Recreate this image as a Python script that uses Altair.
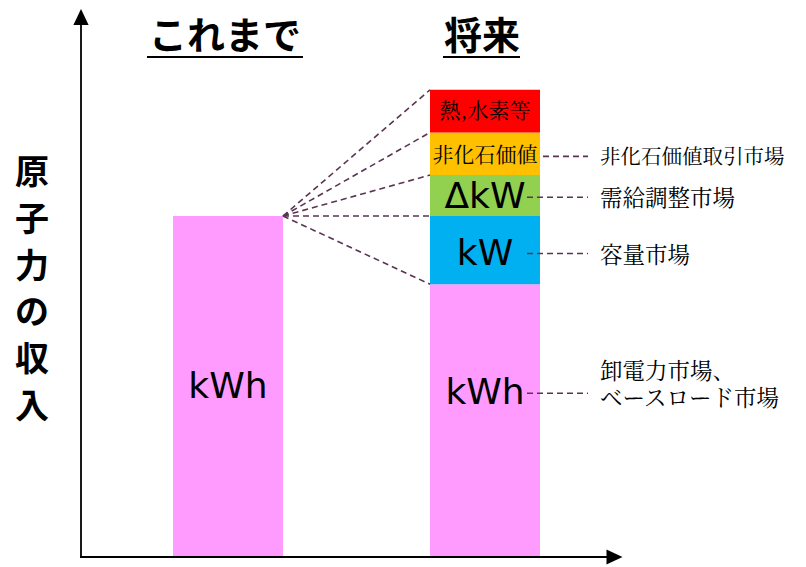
import altair as alt
import pandas as pd

# ---- data ----
categories = ["これまで", "将来"]
seg_names = ["kWh", "kW", "ΔkW", "非化石価値", "熱,水素等"]
now_values = [100]
future_values = [80, 20, 12, 12.5, 12.5]
seg_colors = ["#ff9bff", "#00b0f0", "#92d050", "#ffc000", "#ff0000"]
label_pos_now = [50]
label_pos_future = [48, 89, 105.5, 117.5, 130.5]
market_names = ["卸電力市場、\nベースロード市場", "容量市場", "需給調整市場", "非化石価値取引市場", ""]
y_label = "原子力の収入"

# ---- tables ----
rows = []
for cat, names, vals, lpos in [
    (categories[0], seg_names[:1], now_values, label_pos_now),
    (categories[1], seg_names, future_values, label_pos_future),
]:
    base = 0
    for n, v, lp in zip(names, vals, lpos):
        rows.append(dict(cat=cat, seg=n, y0=base, y1=base + v, ly=lp))
        base += v
bars = pd.DataFrame(rows)

fut = bars[bars["cat"] == categories[1]].copy()
fut["market"] = market_names
now_total = sum(now_values)
conn = pd.DataFrame({
    "from_cat": categories[0],
    "to_cat": categories[1],
    "y_from": now_total,
    "y_to": list(fut["y1"]),
})
titles = pd.DataFrame({"cat": categories})
ylab = pd.DataFrame({"t": ["\n".join(y_label)]})
one = pd.DataFrame({"a": [0]})

xscale = alt.Scale(domain=categories, range=[165, 532], paddingInner=0.572, paddingOuter=0)
yscale = alt.Scale(domain=[0, 160], range=[549, 3.4], zero=False, nice=False)
X = lambda f, bp=0.5: alt.X(f, scale=xscale, axis=None, bandPosition=bp)
Y = lambda f: alt.Y(f, scale=yscale, axis=None)

DASH = "#5a3552"
CJK = "Noto Serif CJK JP, Noto Sans CJK JP"

bar_layer = alt.Chart(bars).mark_bar(strokeWidth=0).encode(
    x=X("cat:N"), y=Y("y0:Q"), y2="y1:Q",
    color=alt.Color("seg:N", scale=alt.Scale(domain=seg_names, range=seg_colors), legend=None),
)

conn_layer = alt.Chart(conn).mark_rule(color=DASH, strokeWidth=1.6, strokeDash=[6, 4]).encode(
    x=X("from_cat:N", 1), x2=alt.X2("to_cat:N", bandPosition=0),
    y=Y("y_from:Q"), y2="y_to:Q",
)

lat_labels = alt.Chart(bars).transform_filter(
    alt.FieldOneOfPredicate(field="seg", oneOf=["kWh", "kW", "ΔkW"])
).mark_text(font="DejaVu Sans", fontSize=36, color="black", baseline="middle").encode(
    x=X("cat:N"), y=Y("ly:Q"), text="seg:N"
)
cjk_labels = alt.Chart(bars).transform_filter(
    alt.FieldOneOfPredicate(field="seg", oneOf=["非化石価値", "熱,水素等"])
).mark_text(font=CJK, fontSize=21, color="black", baseline="middle").encode(
    x=X("cat:N"), y=Y("ly:Q"), text="seg:N"
)

lead_in = alt.Chart(fut).transform_filter(
    alt.FieldOneOfPredicate(field="seg", oneOf=["kWh", "kW", "ΔkW"])
).mark_rule(color=DASH, strokeWidth=1.6, strokeDash=[6, 4], xOffset=-13, x2Offset=48).encode(
    x=X("cat:N", 1), x2=alt.X2("cat:N", bandPosition=1), y=Y("ly:Q")
)
lead_nf = alt.Chart(fut).transform_filter(
    alt.FieldEqualPredicate(field="seg", equal="非化石価値")
).mark_rule(color=DASH, strokeWidth=1.6, strokeDash=[6, 4], xOffset=3, x2Offset=48).encode(
    x=X("cat:N", 1), x2=alt.X2("cat:N", bandPosition=1), y=Y("ly:Q")
)

mk_single = alt.Chart(fut).transform_filter(
    alt.FieldOneOfPredicate(field="seg", oneOf=["kW", "ΔkW"])
).mark_text(font=CJK, fontSize=22.5, color="black", align="left", baseline="middle", dx=60, dy=2).encode(
    x=X("cat:N", 1), y=Y("ly:Q"), text="market:N"
)
mk_nf = alt.Chart(fut).transform_filter(
    alt.FieldEqualPredicate(field="seg", equal="非化石価値")
).mark_text(font=CJK, fontSize=20.5, color="black", align="left", baseline="middle", dx=60, dy=2).encode(
    x=X("cat:N", 1), y=Y("ly:Q"), text="market:N"
)
mk_multi = alt.Chart(fut).transform_filter(
    alt.FieldEqualPredicate(field="seg", equal="kWh")
).mark_text(font=CJK, fontSize=22.5, color="black", align="left", baseline="middle", dx=60, dy=-21,
            lineBreak="\n", lineHeight=27).encode(
    x=X("cat:N", 1), y=Y("ly:Q"), text="market:N"
)

title_layer = alt.Chart(titles).mark_text(
    font="Noto Sans CJK JP", fontSize=38, fontWeight="bold", color="black", baseline="alphabetic", dx=-3
).encode(x=X("cat:N"), y=alt.value(41), text="cat:N")

ul_now = alt.Chart(titles).transform_filter(
    alt.FieldEqualPredicate(field="cat", equal=categories[0])
).mark_rule(color="black", strokeWidth=2, xOffset=-81, x2Offset=75).encode(
    x=X("cat:N"), x2=alt.X2("cat:N"), y=alt.value(49)
)
ul_fut = alt.Chart(titles).transform_filter(
    alt.FieldEqualPredicate(field="cat", equal=categories[1])
).mark_rule(color="black", strokeWidth=2, xOffset=-42, x2Offset=35).encode(
    x=X("cat:N"), x2=alt.X2("cat:N"), y=alt.value(49)
)

ylab_layer = alt.Chart(ylab).mark_text(
    font="Noto Sans CJK JP", fontSize=34, fontWeight="bold", color="black",
    baseline="middle", lineBreak="\n", lineHeight=46.8
).encode(x=alt.value(24), y=alt.value(166), text="t:N")

yaxis = alt.Chart(one).mark_rule(color="black", strokeWidth=1.8).encode(
    x=alt.value(73), y=alt.value(549.5), y2=alt.value(12)
)
xaxis = alt.Chart(one).mark_rule(color="black", strokeWidth=1.8).encode(
    x=alt.value(72), x2=alt.value(604), y=alt.value(549)
)
yarrow = alt.Chart(one).mark_point(
    shape="M0,-1L0.95,1L-0.95,1Z", filled=True, color="black", opacity=1, size=256, strokeWidth=0
).encode(x=alt.value(73), y=alt.value(9))
xarrow = alt.Chart(one).mark_point(
    shape="M1,0L-1,0.95L-1,-0.95Z", filled=True, color="black", opacity=1, size=256, strokeWidth=0
).encode(x=alt.value(606.5), y=alt.value(549))

chart = alt.layer(
    bar_layer, conn_layer, lat_labels, cjk_labels, lead_in, lead_nf,
    mk_single, mk_nf, mk_multi, title_layer, ul_now, ul_fut, ylab_layer,
    yaxis, xaxis, yarrow, xarrow,
).properties(
    width=785, height=557, autosize=alt.AutoSizeParams(type="none"), padding=0,
).configure_view(stroke=None)

chart.save("out.html", embed_options={"renderer": "svg", "actions": False})
